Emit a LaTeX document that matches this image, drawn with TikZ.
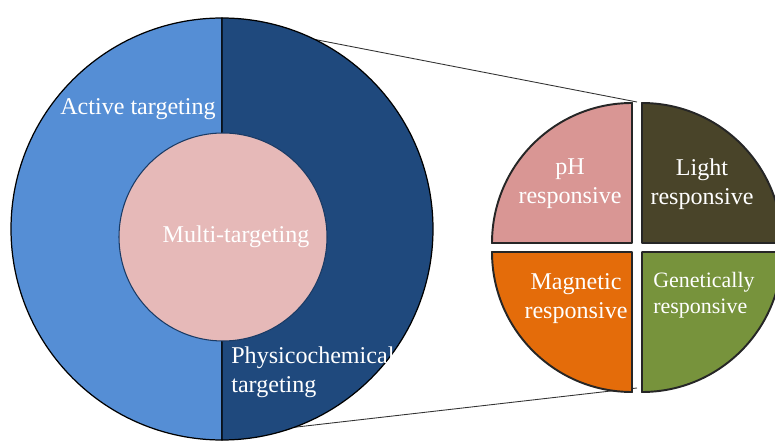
\documentclass[tikz,border=0pt]{standalone}
\usepackage{fontspec}
\setmainfont{Liberation Serif}
\usepackage{xcolor}
\usepackage{tikz}
\usetikzlibrary{positioning}
\definecolor{actc}{HTML}{558ED5}
\definecolor{physc}{HTML}{1F497D}
\definecolor{multc}{HTML}{E6B9B8}
\definecolor{phc}{HTML}{D99694}
\definecolor{lightc}{HTML}{494429}
\definecolor{magc}{HTML}{E46C0A}
\definecolor{genc}{HTML}{77933C}
\tikzset{
  half/.style={draw=black,line width=0.7pt},
  quad/.style={draw=black!85,line width=1.1pt,line join=round},
  lbl/.style={text=white,inner sep=0pt,align=center,font=\fontsize{13.7}{16.5}\selectfont},
  zoomln/.style={draw=black!80,line width=0.5pt}
}

\begin{document}
\begin{tikzpicture}[x=0.02cm,y=0.02cm]
\clip (0,0) rectangle (775,440);
\coordinate (big) at (222,211);
\coordinate (uptop) at (314.5,400.6);
\coordinate (upbot) at (294.2,12.7);
\coordinate (pietop) at (637,338);
\coordinate (piebot) at (637,52);
% zoom lines
\draw[zoomln] (uptop) -- (pietop);
\draw[zoomln] (upbot) -- (piebot);
% big ring
\draw[half,fill=actc] (222,422) arc[start angle=90,end angle=270,radius=211] -- cycle;
\draw[half,fill=physc] (222,0) arc[start angle=-90,end angle=90,radius=211] -- cycle;
\draw[fill=multc,draw=physc!80!black,line width=0.6pt] (223,203) circle (104);
\node[lbl] (active) at (138,331) {Active targeting};
\node[lbl] (multi) at (236,203) {Multi-targeting};
\node[lbl,align=left,anchor=west] (phys) at (231,68) {Physicochemical\\targeting};
% pie of stimuli
\draw[quad,fill=phc] (632,197) -- (632,337) arc[start angle=90,end angle=180,radius=140] -- cycle;
\draw[quad,fill=lightc] (642,197) -- (782,197) arc[start angle=0,end angle=90,radius=140] -- cycle;
\draw[quad,fill=magc] (632,188) -- (492,188) arc[start angle=180,end angle=270,radius=140] -- cycle;
\draw[quad,fill=genc] (642,188) -- (642,48) arc[start angle=270,end angle=360,radius=140] -- cycle;
\node[lbl] (ph) at (570,256) {pH\\responsive};
\node[lbl] (light) at (702,256) {Light\\responsive};
\node[lbl] (mag) at (576,141) {Magnetic\\responsive};
\node[lbl,align=left,anchor=west,font=\fontsize{12.5}{14.8}\selectfont] (gen) at (653,145) {Genetically\\responsive};
\end{tikzpicture}
\end{document}
